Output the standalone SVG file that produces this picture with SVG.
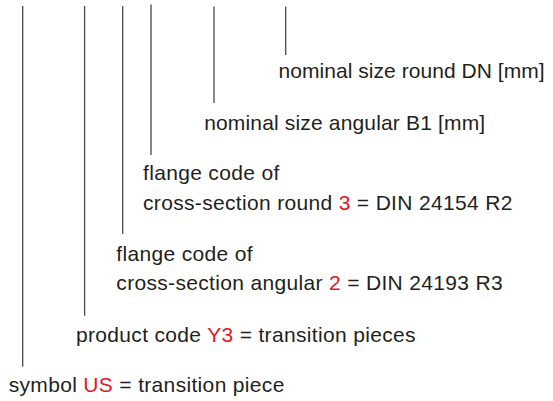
<svg xmlns="http://www.w3.org/2000/svg" width="553" height="401" viewBox="0 0 553 401">
<style>
.t{font-family:"Liberation Sans",Arial,Helvetica,sans-serif;font-size:21px;letter-spacing:0.33px;fill:#231f20}
.r{fill:#e3161f}
.ln{stroke:#4a4a4a;stroke-width:1.3;fill:none}
</style>
<rect width="553" height="401" fill="#ffffff"/>
<g id="connectors">
<line class="ln" x1="22.7" y1="6" x2="22.7" y2="366.7"/>
<line class="ln" x1="84.6" y1="6" x2="84.6" y2="315.7"/>
<line class="ln" x1="122.7" y1="6" x2="122.7" y2="234"/>
<line class="ln" x1="151" y1="4.5" x2="151" y2="155"/>
<line class="ln" x1="214" y1="6.5" x2="214" y2="103"/>
<line class="ln" x1="285.7" y1="6.5" x2="285.7" y2="55"/>
</g>
<g id="dn"><text class="t" x="278.5" y="77.5" style="letter-spacing:0.05px">nominal size round DN [mm]</text></g>
<g id="b1"><text class="t" x="204.2" y="130" style="letter-spacing:0.16px">nominal size angular B1 [mm]</text></g>
<g id="flange-round"><text class="t" x="143" y="180">flange code of</text><text class="t" x="143" y="209.5">cross-section round <tspan class="r">3</tspan> = DIN 24154 R2</text></g>
<g id="flange-angular"><text class="t" x="116.3" y="261">flange code of</text><text class="t" x="116.3" y="290">cross-section angular <tspan class="r">2</tspan> = DIN 24193 R3</text></g>
<g id="product"><text class="t" x="76" y="342">product code <tspan class="r">Y3</tspan> = transition pieces</text></g>
<g id="symbol"><text class="t" x="8.7" y="391.5">symbol <tspan class="r">US</tspan> = transition piece</text></g>
</svg>
